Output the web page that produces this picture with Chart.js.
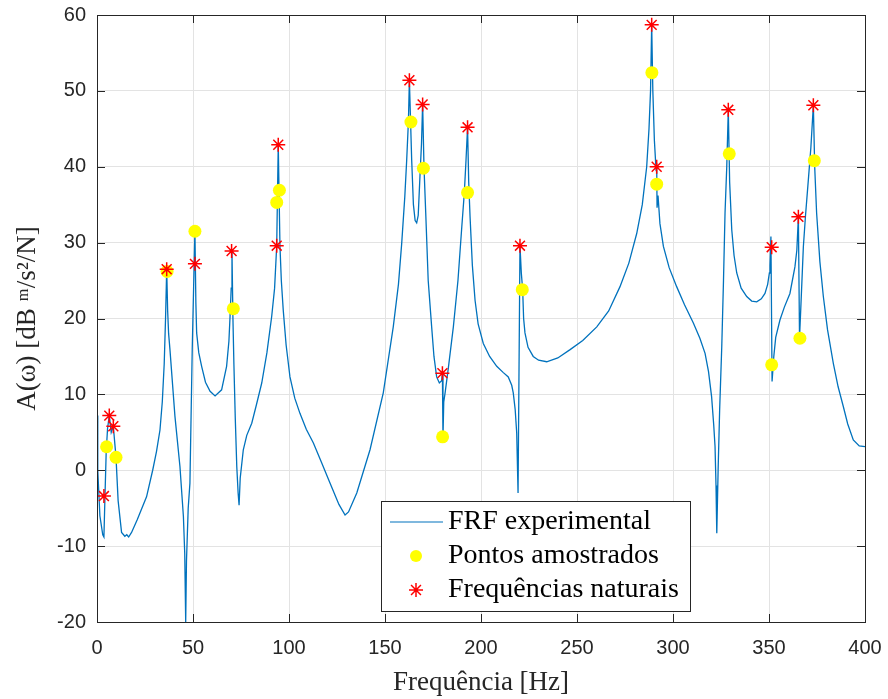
<!DOCTYPE html>
<html lang="pt">
<head>
<meta charset="UTF-8">
<title>FRF</title>
<script src="https://cdn.jsdelivr.net/npm/chart.js@4.4.1/dist/chart.umd.min.js"></script>
<style>
  html, body { margin: 0; padding: 0; background: #fff; }
  #wrap { width: 888px; height: 699px; position: relative; }
</style>
</head>
<body>
<div id="wrap"><canvas id="frfChart"></canvas></div>
<script>
// FRF curve (Hz, dB)
const frfFreq = [0, 0.4, 1.5, 3.0, 3.6, 4.2, 4.8, 5.5, 6.4, 7.4, 8.5, 9.9, 11, 12.8, 14.5, 15.5, 16.5, 18, 21, 25.8, 29, 31, 32.8, 34, 35, 35.7, 36.3, 36.8, 37.3, 38, 40.6, 43.2, 45, 45.7, 46.2, 46.6, 47.5, 48.4, 49.6, 50.4, 51, 51.5, 51.9, 53, 54.5, 56.5, 58.9, 61.5, 64.9, 67.5, 68.7, 69.3, 69.9, 70.3, 70.8, 71.3, 72, 72.8, 73.5, 74, 74.6, 76.2, 78, 80.6, 83, 85.8, 88.5, 91, 92.5, 93.6, 94.4, 95.3, 96, 97, 98.5, 100.5, 103, 105.7, 109, 112.7, 117, 121.4, 126, 129.2, 131, 135.3, 142.2, 149.1, 154.3, 157, 158.7, 160.3, 161.3, 162.2, 162.7, 163.9, 164.8, 165.7, 166.5, 167.3, 168.2, 169, 169.6, 170.3, 171.2, 172.5, 174.3, 175.5, 176.9, 178.3, 179.5, 179.9, 180.2, 180.6, 181.3, 183, 185.6, 188, 190, 191.3, 192.2, 193, 193.6, 194.3, 195.5, 196.9, 198.5, 201.2, 204.5, 208.2, 211.5, 214.2, 216, 216.8, 217.8, 218.6, 219.3, 220.3, 221, 221.7, 222.2, 222.9, 224.5, 227.2, 230, 234.2, 240, 246.4, 253, 260.3, 266.5, 272.4, 277, 281.1, 284, 286.3, 287.5, 288.3, 288.9, 289.5, 290.3, 291.2, 291.5, 291.7, 292.2, 293.2, 295, 298, 301.9, 306, 310.6, 314, 316.7, 318.5, 320.1, 321.2, 321.9, 322.4, 322.8, 323.5, 324.3, 325.4, 326.3, 327.1, 328, 328.8, 329.5, 330.6, 331.8, 333.2, 335.5, 338.4, 341, 343.6, 346, 347.9, 349.3, 350.2, 350.5, 351.0, 351.6, 352.5, 353.5, 355.7, 358, 360.9, 363.5, 364.5, 365.3, 365.9, 366.5, 367.9, 369, 370.5, 371.8, 373.1, 373.8, 374.8, 376.5, 378.3, 380.5, 383.5, 386, 388.7, 391, 393.9, 397, 400];
const frfAmp = [7.2, 0, -6, -8.5, -8.8, -3, 2.5, 5.5, 7.2, 5.0, 5.8, 1.7, -4, -8.2, -8.7, -8.5, -8.8, -8.2, -6.5, -3.5, 0, 2.5, 5.3, 9, 14, 20, 26.5, 21, 18, 15.9, 7.1, 0.5, -6.1, -11, -20, -12, -5, -1.7, 15.9, 25, 31.5, 22, 18.1, 15.5, 13.7, 11.6, 10.4, 9.8, 10.6, 13.7, 17, 20.3, 24, 28.9, 20, 14, 7, 0.5, -3, -4.6, -1, 2.7, 4.6, 6.2, 8.6, 11.5, 15.5, 20.3, 24, 29.6, 42.9, 29.5, 25, 21.1, 16.5, 12.3, 9.5, 7.5, 5.4, 3.6, 1, -1.7, -4.5, -5.9, -5.5, -3, 2.7, 10.2, 18.9, 24.5, 29.9, 36, 40.9, 46, 51.4, 40.9, 35, 32.9, 32.6, 33.6, 38.7, 43, 48.3, 40, 34, 25, 18.9, 15, 12.3, 11.5, 11.8, 12.8, 4.4, 9, 10.2, 13.5, 18.9, 25, 32.1, 36.5, 40.9, 45.2, 38, 33.4, 27, 22.4, 19.3, 16.7, 15, 13.7, 12.9, 12.3, 11.2, 10.2, 8, 4.9, -3.0, 29.6, 26, 23.8, 20, 18.1, 16.2, 15, 14.5, 14.3, 14.8, 15.9, 17.1, 18.9, 21, 24.2, 27.3, 31.2, 35, 40, 45, 50, 58.7, 50, 43.5, 39.5, 40.5, 34.6, 36.2, 32.5, 29.5, 26.7, 24.2, 21.8, 19.4, 17.4, 15.4, 13, 9.7, 6, 3.1, -2, -8.3, 0, 8, 16.3, 25, 33.9, 40, 47.5, 38, 31.7, 28.3, 26, 24, 22.9, 22.3, 22.2, 22.6, 23.3, 24.5, 26, 27, 30.8, 11.7, 15, 17.5, 19.8, 21.5, 23.3, 26.8, 29, 33.4, 17.5, 21, 29.5, 33.5, 38.3, 42.5, 48.1, 40, 33.9, 27.5, 22.9, 18.5, 14.1, 11, 8.4, 6.1, 4.0, 3.2, 3.1];

// sampled points
const sampledFreq = [5.0, 9.9, 36.5, 51, 71, 93.6, 95, 163.5, 170, 180, 193, 221.5, 289, 291.5, 329.3, 351.4, 366.1, 373.6];
const sampledAmp = [3.1, 1.7, 26.2, 31.5, 21.3, 35.3, 36.9, 45.9, 39.8, 4.4, 36.6, 23.8, 52.4, 37.7, 41.7, 13.9, 17.4, 40.8];

// natural frequencies
const naturalFreq = [3.6, 6.4, 8.5, 36.3, 51, 70.1, 93.6, 94.4, 162.7, 169.6, 179.9, 193, 220.3, 288.9, 291.5, 328.8, 351.4, 365.3, 373.1];
const naturalAmp = [-3.4, 7.2, 5.8, 26.5, 27.2, 28.9, 29.6, 42.9, 51.4, 48.2, 12.8, 45.2, 29.6, 58.7, 40.0, 47.5, 29.4, 33.4, 48.1];

const legendLabels = ['FRF experimental', 'Pontos amostrados', 'Frequências naturais'];

const toXY = (xs, ys) => xs.map((x, i) => ({ x: x, y: ys[i] }));

const LEFT = 97, TOP = 15, RIGHT = 23, BOTTOM = 77;
const axisColor = '#262626';

// frame, inward ticks and legend box inside the plot
const framePlugin = {
    id: 'frame',
    afterDraw(chart) {
        const ctx = chart.ctx;
        const a = chart.chartArea;
        const xs = chart.scales.x, ys = chart.scales.y;
        ctx.save();
        ctx.strokeStyle = axisColor;
        ctx.lineWidth = 1;
        ctx.strokeRect(a.left + 0.5, a.top + 0.5, a.right - a.left, a.bottom - a.top);
        ctx.beginPath();
        xs.ticks.forEach(t => {
            const px = Math.round(xs.getPixelForValue(t.value)) + 0.5;
            ctx.moveTo(px, a.bottom); ctx.lineTo(px, a.bottom - 8);
            ctx.moveTo(px, a.top); ctx.lineTo(px, a.top + 8);
        });
        ys.ticks.forEach(t => {
            const py = Math.round(ys.getPixelForValue(t.value)) + 0.5;
            ctx.moveTo(a.left, py); ctx.lineTo(a.left + 8, py);
            ctx.moveTo(a.right, py); ctx.lineTo(a.right - 8, py);
        });
        ctx.stroke();

        // legend
        const bx = 381, by = 501, bw = 309, bh = 110;
        ctx.fillStyle = '#fff';
        ctx.fillRect(bx, by, bw, bh);
        ctx.strokeStyle = axisColor;
        ctx.strokeRect(bx + 0.5, by + 0.5, bw, bh);
        ctx.font = '28px "Liberation Serif", serif';
        ctx.fillStyle = '#000';
        ctx.textBaseline = 'middle';
        const rows = [522, 556, 590];
        const tx = 448;
        ctx.fillText(legendLabels[0], tx, rows[0]);
        ctx.fillText(legendLabels[1], tx, rows[1]);
        ctx.fillText(legendLabels[2], tx, rows[2]);
        ctx.strokeStyle = '#0072BD';
        ctx.lineWidth = 1.2;
        ctx.beginPath();
        ctx.moveTo(390, rows[0]); ctx.lineTo(443, rows[0]);
        ctx.stroke();
        ctx.fillStyle = '#FFFF00';
        ctx.beginPath();
        ctx.arc(416, rows[1], 6, 0, Math.PI * 2);
        ctx.fill();
        ctx.strokeStyle = '#FF0000';
        ctx.lineWidth = 1.5;
        ctx.beginPath();
        for (let k = 0; k < 4; k++) {
            const ang = k * Math.PI / 4;
            ctx.moveTo(416 - 7 * Math.cos(ang), rows[2] - 7 * Math.sin(ang));
            ctx.lineTo(416 + 7 * Math.cos(ang), rows[2] + 7 * Math.sin(ang));
        }
        ctx.stroke();
        ctx.restore();
    }
};

const ctx1 = document.getElementById('frfChart').getContext('2d');
const frfChart = new Chart(ctx1, {
    type: 'scatter',
    data: {
        datasets: [
            {
                label: legendLabels[2],
                data: toXY(naturalFreq, naturalAmp),
                pointStyle: 'star',
                pointRadius: 7,
                borderColor: '#FF0000',
                backgroundColor: '#FF0000',
                pointBorderWidth: 1.5,
                order: 1
            },
            {
                label: legendLabels[1],
                data: toXY(sampledFreq, sampledAmp),
                pointStyle: 'circle',
                pointRadius: 6.5,
                borderColor: '#FFFF00',
                backgroundColor: '#FFFF00',
                pointBorderWidth: 0,
                order: 2
            },
            {
                label: legendLabels[0],
                data: toXY(frfFreq, frfAmp),
                showLine: true,
                pointRadius: 0,
                borderColor: '#0072BD',
                backgroundColor: '#0072BD',
                borderWidth: 1.3,
                tension: 0,
                order: 3
            }
        ]
    },
    options: {
        responsive: true,
        maintainAspectRatio: false,
        animation: false,
        layout: { padding: { left: 8, top: TOP, right: RIGHT, bottom: 0 } },
        plugins: {
            legend: { display: false },
            tooltip: { enabled: false }
        },
        scales: {
            x: {
                type: 'linear',
                min: 0, max: 400,
                ticks: {
                    stepSize: 50,
                    padding: 14,
                    color: axisColor,
                    font: { family: '"Liberation Sans", Arial, sans-serif', size: 20 }
                },
                grid: { color: '#e3e3e3', drawTicks: false },
                border: { display: false },
                title: {
                    display: true,
                    text: 'Frequência [Hz]',
                    color: axisColor,
                    font: { family: '"Liberation Serif", serif', size: 27 },
                    padding: { top: 0, bottom: 0 }
                },
                afterFit(scale) {
                    scale.height = BOTTOM;
                    scale.paddingLeft = 0;
                    scale.paddingRight = 0;
                }
            },
            y: {
                min: -20, max: 60,
                ticks: {
                    stepSize: 10,
                    padding: 11,
                    color: axisColor,
                    font: { family: '"Liberation Sans", Arial, sans-serif', size: 20 }
                },
                grid: { color: '#e3e3e3', drawTicks: false },
                border: { display: false },
                title: {
                    display: true,
                    text: 'A(ω) [dB ᵐ/s²/N]',
                    color: axisColor,
                    font: { family: '"Liberation Serif", serif', size: 27 },
                    padding: { top: 4, bottom: 0 }
                },
                afterFit(scale) {
                    scale.width = LEFT - 8;
                    scale.paddingTop = 0;
                    scale.paddingBottom = 0;
                }
            }
        }
    },
    plugins: [framePlugin]
});
</script>
</body>
</html>
